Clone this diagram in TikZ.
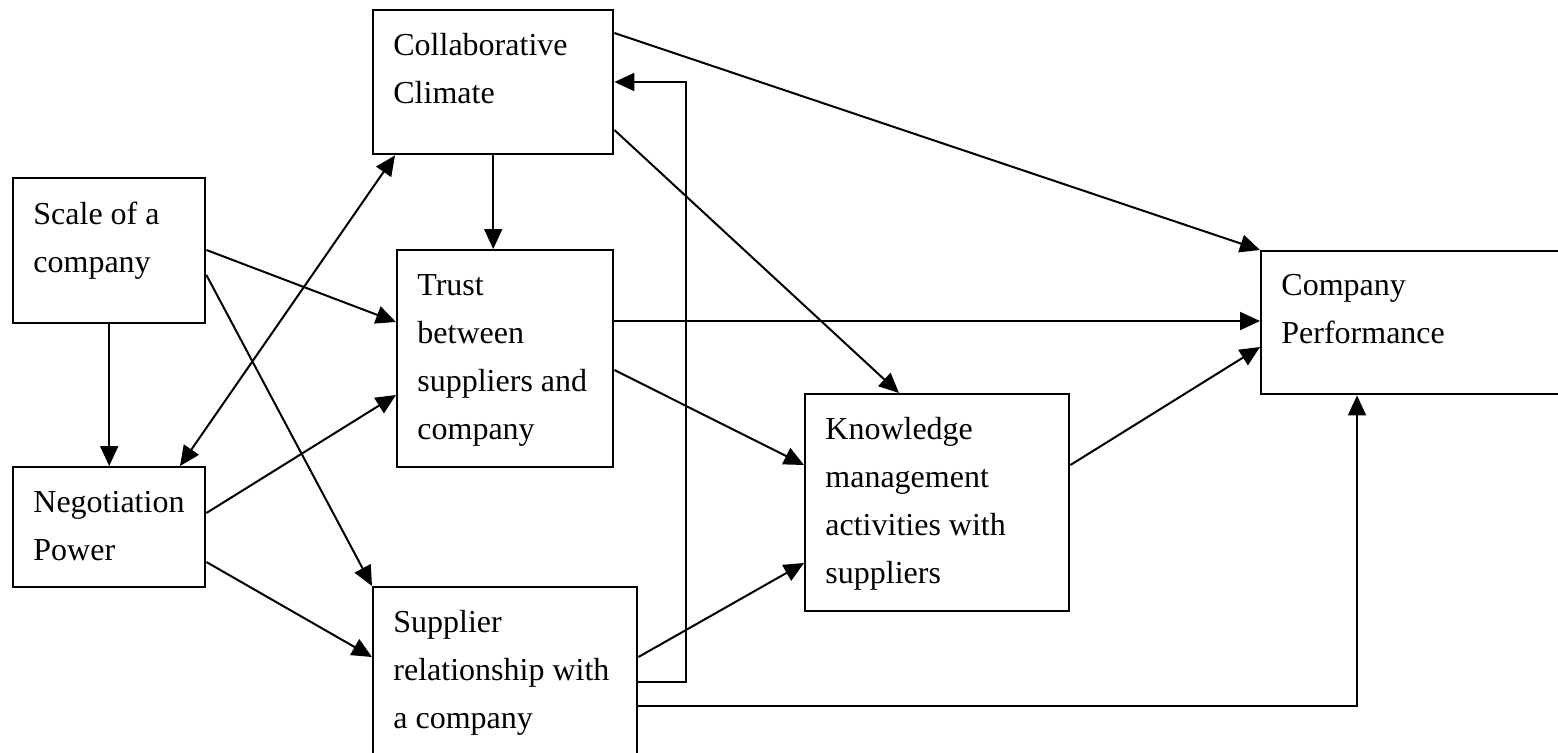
\documentclass[tikz,border=0pt]{standalone}
\usepackage{fontspec}
\setmainfont{Liberation Serif}
\usetikzlibrary{arrows.meta,calc}
\begin{document}
\begin{tikzpicture}[x=0.5pt,y=-0.5pt,
  box/.style={draw,line width=1.2pt,rectangle,inner sep=0pt,anchor=north west},
  txt/.style={anchor=north west,inner sep=0pt,align=left,
    font=\fontsize{16}{24}\selectfont},
  conn/.style={line width=1pt,-{Triangle[length=10pt,width=9pt]}},
  dconn/.style={line width=1pt,{Triangle[length=10pt,width=9pt]}-{Triangle[length=10pt,width=9pt]}}]
\clip (0,0) rectangle (1558,752);
\fill[white] (0,0) rectangle (1558,752);

% boxes
\node[box,minimum width=120pt,minimum height=72pt]  (coll)  at (372,9)   {};
\node[box,minimum width=96pt,minimum height=72.5pt] (scale) at (12,177)  {};
\node[box,minimum width=96pt,minimum height=60pt]   (neg)   at (12,466)  {};
\node[box,minimum width=108pt,minimum height=108.5pt] (trust) at (396,249) {};
\node[box,minimum width=132pt,minimum height=102pt] (supp)  at (372,586)  {};
\node[box,minimum width=132pt,minimum height=108.5pt] (know) at (804,393) {};
\node[box,minimum width=180pt,minimum height=71.5pt] (cp)   at (1260,250) {};

% box texts
\node[txt] (coll-t)  at (393,21.4)  {\strut Collaborative\\Climate};
\node[txt] (scale-t) at (33,190.4)  {\strut Scale of a\\company};
\node[txt] (neg-t)   at (33,478.4)  {\strut Negotiation\\Power};
\node[txt] (trust-t) at (417,261.4) {\strut Trust\\between\\suppliers and\\company};
\node[txt] (supp-t)  at (393,598.4) {\strut Supplier\\relationship with\\a company};
\node[txt] (know-t)  at (825,405.4) {\strut Knowledge\\management\\activities with\\suppliers};
\node[txt] (cp-t)    at (1281,261.4) {\strut Company\\Performance};

% connectors
\draw[conn] ($(coll.north east)+(0,24)$) -- (cp.north west);
\draw[conn] ($(coll.north east)+(0,121)$) -- ($(know.north west)+(95,0)$);
\draw[conn] (coll.south) -- (coll.south |- trust.north);
\draw[conn] ($(supp.north east)+(0,96)$) -- ++(48,0) |- ($(coll.north east)+(0,73)$);
\draw[conn] ($(scale.north east)+(0,73)$) -- ($(trust.north west)+(0,73)$);
\draw[conn] ($(scale.north east)+(0,98)$) -- (supp.north west);
\draw[conn] (scale.south) -- (neg.north);
\draw[dconn] ($(neg.north west)+(168,0)$) -- ($(coll.south west)+(23,0)$);
\draw[conn] ($(neg.north east)+(0,47)$) -- ($(trust.north west)+(0,146)$);
\draw[conn] ($(neg.north east)+(0,96)$) -- ($(supp.north west)+(0,71)$);
\draw[conn] ($(trust.north east)+(0,72)$) -- ($(cp.north west)+(0,71)$);
\draw[conn] ($(trust.north east)+(0,121)$) -- ($(know.north west)+(0,72)$);
\draw[conn] ($(supp.north east)+(0,71)$) -- ($(know.north west)+(0,170)$);
\draw[conn] ($(know.north east)+(0,72)$) -- ($(cp.north west)+(0,97)$);
\draw[conn] ($(supp.north east)+(0,120)$) -| ($(cp.south west)+(97,0)$);
\end{tikzpicture}
\end{document}
